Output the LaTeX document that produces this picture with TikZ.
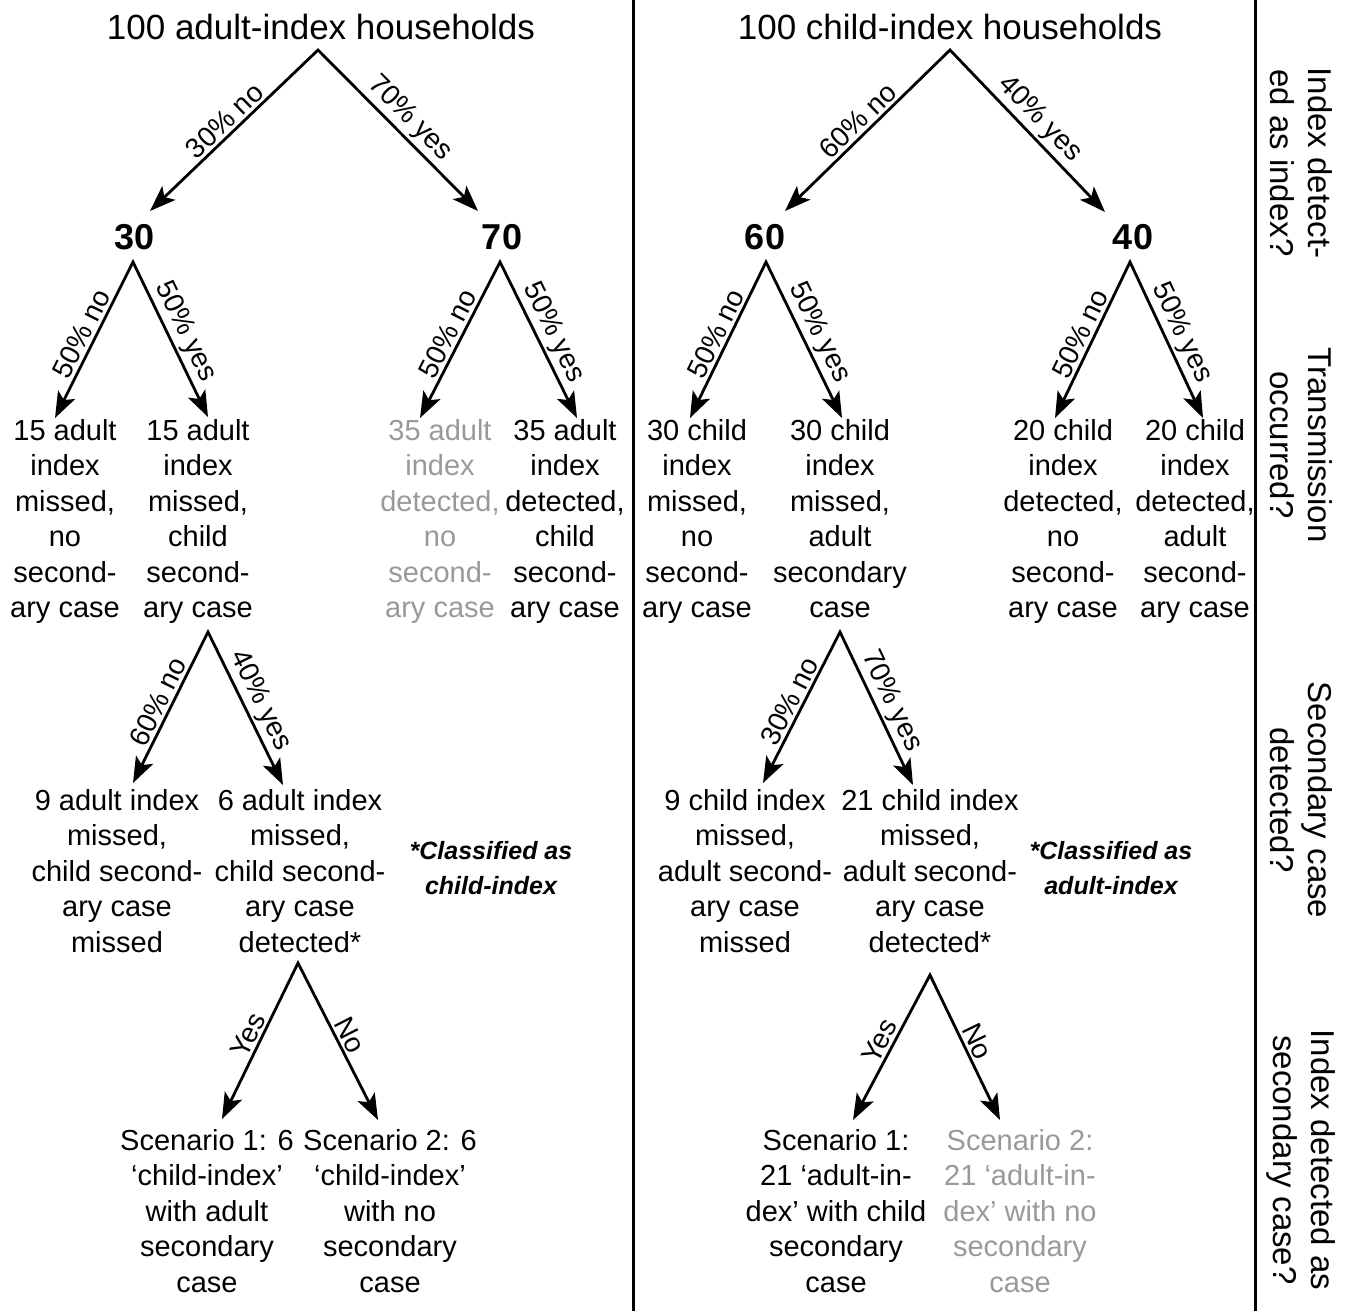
\documentclass[tikz,border=0pt]{standalone}
\usepackage{fontspec}
\setmainfont{Liberation Sans}
\usetikzlibrary{arrows.meta}
\begin{document}
\begin{tikzpicture}[x=1pt,y=-1pt,
  every node/.style={inner sep=0pt, outer sep=0pt},
  leaf/.style={anchor=north, align=center, font=\fontsize{29}{35.5}\selectfont},
  ttl/.style={anchor=base, font=\fontsize{35}{40}\selectfont},
  num/.style={anchor=base, font=\fontsize{36}{40}\selectfont\bfseries},
  note/.style={anchor=north, align=center, font=\fontsize{25}{35}\selectfont\bfseries\itshape},
  side/.style={rotate=-90, align=center, font=\fontsize{33}{38}\selectfont},
  fork/.style={line width=2.8pt, miter limit=10, {Stealth[length=26pt,width=19pt,inset=6pt]}-{Stealth[length=26pt,width=19pt,inset=6pt]}},
  lbl/.style={font=\fontsize{28}{30}\selectfont, sloped, above=4pt},
  faded/.style={text=black!40},
  divider/.style={line width=3pt},
]
\useasboundingbox (0,0) rectangle (1351,1311);

% dividers
\coordinate (d1t) at (633,0);   \coordinate (d1b) at (633,1311);
\coordinate (d2t) at (1255,0);  \coordinate (d2b) at (1255,1311);
\draw[divider] (d1t) -- (d1b);
\draw[divider] (d2t) -- (d2b);

% ---------------- left tree ----------------
\node[ttl] (T1) at (321,40) {100 adult-index households};
\node[num] (n30) at (135,249) {30};
\node[num] (n70) at (502,249) {70};

\node[leaf] (L1) at (65,419) {15 adult\\index\\missed,\\no\\second-\\ary case};
\node[leaf] (L2) at (198,419) {15 adult\\index\\missed,\\child\\second-\\ary case};
\node[leaf,faded] (L3) at (440,419) {35 adult\\index\\detected,\\no\\second-\\ary case};
\node[leaf] (L4) at (565,419) {35 adult\\index\\detected,\\child\\second-\\ary case};

\node[leaf] (L21) at (117,789) {9 adult index\\missed,\\child second-\\ary case\\missed};
\node[leaf] (L22) at (300,789) {6 adult index\\missed,\\child second-\\ary case\\detected*};
\node[note] (LN) at (491,841) {*Classified as\\child-index};

\node[leaf] (LS1) at (207,1129) {Scenario 1: 6\\‘child-index’\\with adult\\secondary\\case};
\node[leaf] (LS2) at (390,1129) {Scenario 2: 6\\‘child-index’\\with no\\secondary\\case};

\coordinate (la0) at (318,50);  \coordinate (la1) at (150,211); \coordinate (la2) at (478,211);
\coordinate (lb0) at (133,262); \coordinate (lb1) at (55,418);  \coordinate (lb2) at (208,417);
\coordinate (lc0) at (500,262); \coordinate (lc1) at (420,418); \coordinate (lc2) at (577,418);
\coordinate (ld0) at (208,632); \coordinate (ld1) at (133,783); \coordinate (ld2) at (283,785);
\coordinate (le0) at (298,963); \coordinate (le1) at (222,1119); \coordinate (le2) at (378,1120);

\draw[fork] (la1) -- node[lbl]{30\% no} (la0) -- node[lbl]{70\% yes} (la2);
\draw[fork] (lb1) -- node[lbl]{50\% no} (lb0) -- node[lbl]{50\% yes} (lb2);
\draw[fork] (lc1) -- node[lbl]{50\% no} (lc0) -- node[lbl]{50\% yes} (lc2);
\draw[fork] (ld1) -- node[lbl]{60\% no} (ld0) -- node[lbl]{40\% yes} (ld2);
\draw[fork] (le1) -- node[lbl]{Yes} (le0) -- node[lbl]{No} (le2);

% ---------------- right tree ----------------
\node[ttl] (T2) at (950,40) {100 child-index households};
\node[num] (n60) at (765,249) {60};
\node[num] (n40) at (1133,249) {40};

\node[leaf] (R1) at (697,419) {30 child\\index\\missed,\\no\\second-\\ary case};
\node[leaf] (R2) at (840,419) {30 child\\index\\missed,\\adult\\secondary\\case};
\node[leaf] (R3) at (1063,419) {20 child\\index\\detected,\\no\\second-\\ary case};
\node[leaf] (R4) at (1195,419) {20 child\\index\\detected,\\adult\\second-\\ary case};

\node[leaf] (R21) at (745,789) {9 child index\\missed,\\adult second-\\ary case\\missed};
\node[leaf] (R22) at (930,789) {21 child index\\missed,\\adult second-\\ary case\\detected*};
\node[note] (RN) at (1111,841) {*Classified as\\adult-index};

\node[leaf] (RS1) at (836,1129) {Scenario 1:\\21 ‘adult-in-\\dex’ with child\\secondary\\case};
\node[leaf,faded] (RS2) at (1020,1129) {Scenario 2:\\21 ‘adult-in-\\dex’ with no\\secondary\\case};

\coordinate (ra0) at (950,50);   \coordinate (ra1) at (785,211);  \coordinate (ra2) at (1105,212);
\coordinate (rb0) at (766,262);  \coordinate (rb1) at (690,418);  \coordinate (rb2) at (842,418);
\coordinate (rc0) at (1130,262); \coordinate (rc1) at (1055,418); \coordinate (rc2) at (1203,418);
\coordinate (rd0) at (840,632);  \coordinate (rd1) at (763,783);  \coordinate (rd2) at (913,785);
\coordinate (re0) at (930,975);  \coordinate (re1) at (853,1120); \coordinate (re2) at (1000,1120);

\draw[fork] (ra1) -- node[lbl]{60\% no} (ra0) -- node[lbl]{40\% yes} (ra2);
\draw[fork] (rb1) -- node[lbl]{50\% no} (rb0) -- node[lbl]{50\% yes} (rb2);
\draw[fork] (rc1) -- node[lbl]{50\% no} (rc0) -- node[lbl]{50\% yes} (rc2);
\draw[fork] (rd1) -- node[lbl]{30\% no} (rd0) -- node[lbl]{70\% yes} (rd2);
\draw[fork] (re1) -- node[lbl]{Yes} (re0) -- node[lbl]{No} (re2);

% ---------------- side questions ----------------
\node[side] (S1) at (1301,163) {Index detect-\\ed as index?};
\node[side] (S2) at (1301,445) {Transmission\\occurred?};
\node[side] (S3) at (1301,800) {Secondary case\\detected?};
\node[side] (S4) at (1301,1160) {Index detected as\\secondary case?};
\end{tikzpicture}
\end{document}
